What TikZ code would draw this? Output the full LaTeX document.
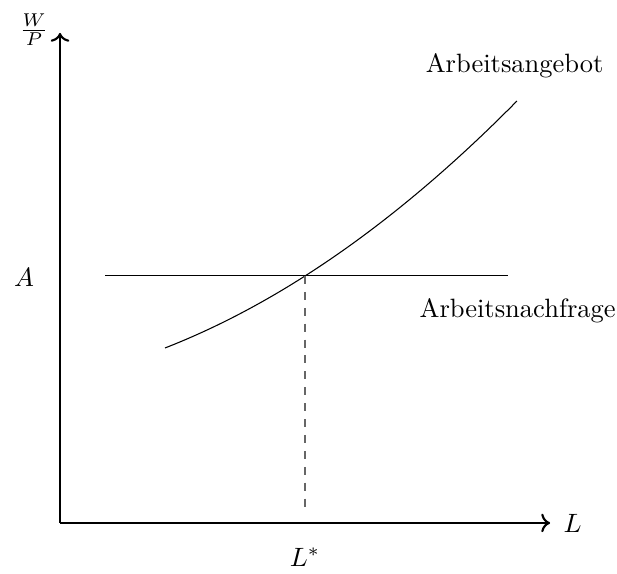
\documentclass[tikz,border=0pt]{standalone}
\usepackage{tikz}
\usetikzlibrary{arrows.meta,calc,positioning}
\tikzset{
  axis/.style={->,thick},
  lbl/.style={inner sep=0pt}
}
\begin{document}
\begin{tikzpicture}
        \useasboundingbox (-0.796,-0.676) rectangle (7.387,6.936);

        \coordinate (O) at (0,0);
        \coordinate (xend) at (6.5,0);
        \coordinate (yend) at (0,6.5);
        \coordinate (E) at (3.249,3.276);
        \coordinate (Lfoot) at (3.249,0.14);
        \coordinate (nl) at (0.597,3.276);
        \coordinate (nr) at (5.942,3.276);

        \draw[axis] (O) -- (xend);
        \draw[axis] (O) -- (yend);

        % Arbeitsnachfrage
        \draw (nl) -- (nr);

        % Arbeitsangebot
        \draw[domain=1.393:6.061,samples=120]
          plot (\x,{2.321+0.0667*(\x-1.393)*(\x-1.393)+0.3905*(\x-1.393)});

        \draw[dashed,gray!80!black] (E) -- (Lfoot);

        \node[lbl] (lL) at (6.80,0) {$L$};
        \node[lbl] (lWP) at (-0.345,6.54) {$\frac{W}{P}$};
        \node[lbl] (lA) at (-0.477,3.25) {$A$};
        \node[lbl] (lLs) at (3.249,-0.45) {$L^{*}$};
        \node[lbl] (angebot) at (6.03,6.07) {Arbeitsangebot};
        \node[lbl] (nachfrage) at (6.07,2.82) {Arbeitsnachfrage};
      \end{tikzpicture}
\end{document}
